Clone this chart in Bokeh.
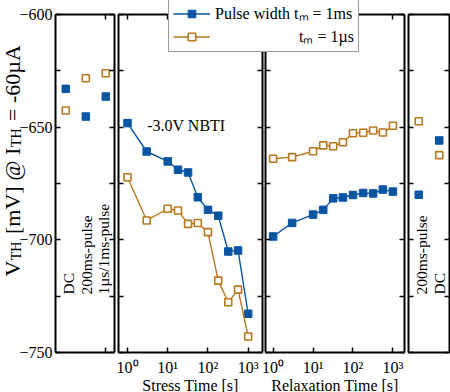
import math
from bokeh.plotting import figure
from bokeh.models import (Range1d, LogScale, LinearScale, LinearAxis, LogAxis,
                          FixedTicker, Label, Legend, LegendItem)
from bokeh.embed import file_html
from bokeh.resources import INLINE

# ---------------- data ----------------
stress_time = [1, 3, 10, 18, 32, 56, 100, 180, 320, 560, 1000]
stress_1ms = [-648.2, -660.8, -665.2, -668.9, -670.1, -681.1, -686.7, -689.3, -705.2, -704.7, -732.8]
stress_1us = [-672.2, -691.4, -686.2, -687.0, -692.9, -692.5, -696.6, -718.1, -727.7, -722.1, -742.9]

relax_time = [1, 3, 10, 18, 32, 56, 100, 180, 320, 560, 1000]
relax_1ms = [-698.5, -692.5, -688.8, -686.7, -681.6, -681.2, -680.1, -679.2, -679.4, -677.7, -678.6]
relax_1us = [-664.0, -663.3, -660.7, -658.1, -658.5, -656.7, -652.7, -652.5, -651.5, -652.4, -649.4]

left_labels = ["DC", "200ms-pulse", "1µs/1ms-pulse"]
left_pos = [1, 2, 3]
left_1ms = [-633.0, -645.3, -636.4]
left_1us = [-642.6, -628.3, -626.1]

right_labels = ["200ms-pulse", "DC"]
right_pos = [1, 2]
right_1ms = [-680.0, -655.9]
right_1us = [-647.4, -662.4]

y_ticks = [-750, -700, -650, -600]
y_minor_ticks = [-725, -675, -625]
time_ticks = [1, 10, 100, 1000]
time_tick_labels = ["10⁰", "10¹", "10²", "10³"]

# ---------------- style / layout (canvas pixels) ----------------
FONT = "Liberation Serif"
BLUE = "#0a55a3"
ORANGE = "#b9771e"
W, H = 450, 392
FT, FB = 14, 352                       # top / bottom of the panels
P1, P2, P3, P4 = (55, 114), (118, 262), (265, 404), (408, 449)
P1_DATA = (0.485, 3.435)
P2_DATA = (10 ** -0.224, 10 ** 3.356)
P3_DATA = (10 ** -0.19, 10 ** 3.29)
P4_DATA = (0.5, 2.5)
Y_DATA = (-750, -600)


def frame_range(data, px, log=False):
    a, b = data
    if log:
        a, b = math.log10(a), math.log10(b)
    k = (b - a) / (px[1] - px[0])
    s = a - px[0] * k
    e = b + (W - px[1]) * k
    if log:
        s, e = 10 ** s, 10 ** e
    return Range1d(s, e)


KY = (Y_DATA[1] - Y_DATA[0]) / (FB - FT)
y_range = Range1d(Y_DATA[0] - (H - FB) * KY, Y_DATA[1] + FT * KY)


def px_to_x1(px):
    return P1_DATA[0] + (px - P1[0]) * (P1_DATA[1] - P1_DATA[0]) / (P1[1] - P1[0])


def py_to_v(py):
    return Y_DATA[1] - (py - FT) * KY


p = figure(width=W, height=H, x_range=frame_range(P1_DATA, P1), y_range=y_range,
           x_axis_type=None, y_axis_type=None, output_backend="svg", toolbar_location=None,
           min_border=0, min_border_left=0, min_border_right=0,
           min_border_top=0, min_border_bottom=0)
p.outline_line_color = None
p.background_fill_color = "white"
p.border_fill_color = "white"
p.extra_x_ranges = {"stress": frame_range(P2_DATA, P2, True),
                    "relax": frame_range(P3_DATA, P3, True),
                    "dc": frame_range(P4_DATA, P4)}
p.extra_x_scales = {"stress": LogScale(), "relax": LogScale(), "dc": LinearScale()}


def style(ax, labels=True, tick=5):
    ax.axis_line_width = 2
    ax.axis_line_color = "black"
    ax.major_tick_in = tick
    ax.major_tick_out = 0
    ax.minor_tick_in = tick
    ax.minor_tick_out = 0
    ax.major_tick_line_width = 1.5
    ax.minor_tick_line_width = 1.5
    ax.major_tick_line_color = "black"
    ax.minor_tick_line_color = "black"
    ax.major_label_text_font = FONT
    ax.major_label_text_font_size = "16px"
    ax.major_label_text_color = "black" if labels else None
    ax.axis_label_text_font = FONT
    ax.axis_label_text_font_size = "16px"
    ax.axis_label_text_font_style = "normal"
    ax.axis_label_text_color = "black"


panels = [("default", P1_DATA, False, [3], None),
          ("stress", P2_DATA, True, time_ticks, "Stress Time [s]"),
          ("relax", P3_DATA, True, time_ticks, "Relaxation Time [s]"),
          ("dc", P4_DATA, False, [1], None)]

for i, (name, (a, b), is_log, xt, xlabel) in enumerate(panels):
    for side, loc in (("left", a), ("right", b)):
        ax = LinearAxis(x_range_name=name, fixed_location=loc, bounds=Y_DATA,
                        ticker=FixedTicker(ticks=y_ticks, minor_ticks=y_minor_ticks))
        style(ax, labels=(i == 0 and side == "left"))
        ax.major_label_standoff = 3
        p.add_layout(ax, side)
    for side, loc in (("below", Y_DATA[0]), ("above", Y_DATA[1])):
        cls = LogAxis if is_log else LinearAxis
        ax = cls(x_range_name=name, fixed_location=loc, bounds=(a, b),
                 ticker=FixedTicker(ticks=xt, minor_ticks=[]))
        show = side == "below" and xlabel is not None
        style(ax, labels=show, tick=0 if name == "dc" else 5)
        if show:
            ax.major_label_overrides = {t: s for t, s in zip(time_ticks, time_tick_labels)}
            ax.major_label_standoff = 6
            ax.axis_label = xlabel
            ax.axis_label_standoff = -2
        p.add_layout(ax, side)

# ---------------- data glyphs ----------------
def series(x, y, rng, filled):
    if filled:
        ln = p.line(x, y, x_range_name=rng, line_color=BLUE, line_width=1.4)
        sc = p.scatter(x, y, x_range_name=rng, marker="square", size=7.5,
                       fill_color=BLUE, line_color=BLUE)
    else:
        ln = p.line(x, y, x_range_name=rng, line_color=ORANGE, line_width=1.4)
        sc = p.scatter(x, y, x_range_name=rng, marker="square", size=7,
                       fill_color="white", line_color=ORANGE, line_width=1.6)
    return ln, sc

bl, bs = series(stress_time, stress_1ms, "stress", True)
ol, osc = series(stress_time, stress_1us, "stress", False)
series(relax_time, relax_1ms, "relax", True)
series(relax_time, relax_1us, "relax", False)

p.scatter(left_pos, left_1ms, marker="square", size=7.5, fill_color=BLUE, line_color=BLUE)
p.scatter(left_pos, left_1us, marker="square", size=7, fill_color="white",
          line_color=ORANGE, line_width=1.6)
p.scatter(right_pos, right_1ms, x_range_name="dc", marker="square", size=7.5,
          fill_color=BLUE, line_color=BLUE)
p.scatter(right_pos, right_1us, x_range_name="dc", marker="square", size=7,
          fill_color="white", line_color=ORANGE, line_width=1.6)

# ---------------- texts ----------------
def txt(**kw):
    base = dict(text_font=FONT, text_font_size="16px", text_color="black",
                text_baseline="alphabetic", text_align="left")
    base.update(kw)
    p.add_layout(Label(**base))

txt(x=3.1, y=-649.3, x_range_name="stress", text="-3.0V NBTI")

LEFT_DX = [2.7, 0.7, -2.3]
for pos, t, dx in zip(left_pos, left_labels, LEFT_DX):
    txt(x=pos, y=py_to_v(294), x_offset=dx, text=t, angle=math.pi / 2, text_font_size="15.5px")
RIGHT_DX = [2.7, 0.0]
for pos, t, dx in zip(right_pos, right_labels, RIGHT_DX):
    txt(x=pos, y=py_to_v(294), x_offset=dx, x_range_name="dc", text=t,
        angle=math.pi / 2, text_font_size="15.5px")

# y-axis label with subscripts, drawn bottom-to-top
YF, YS = 22, 14
base_x, sub_x = 12, 16
pieces = [("V", YF, base_x, 0.74 * YF),
          ("TH", YS, sub_x, 1.4 * YS + 0.3 * YF),
          ("[mV] @ I", YF, base_x, 3.95 * YF),
          ("TH", YS, sub_x, 1.4 * YS + 0.3 * YF),
          ("= -60µA", YF, base_x, 3.4 * YF)]
y0 = 276
for t, fs, bx, adv in pieces:
    txt(x=px_to_x1(bx), y=py_to_v(y0), text=t, angle=math.pi / 2, text_font_size=f"{fs}px")
    y0 -= adv

# ---------------- legend ----------------
legend = Legend(items=[LegendItem(label="Pulse width tₘ = 1ms", renderers=[bl, bs]),
                       LegendItem(label="\u00a0" * 21 + "tₘ = 1µs", renderers=[ol, osc])],
                location=(168, 340))
legend.label_text_font = FONT
legend.label_text_font_size = "16px"
legend.label_text_color = "black"
legend.border_line_color = "#333333"
legend.border_line_width = 1.2
legend.background_fill_alpha = 1
legend.padding = 4
legend.spacing = 1
legend.margin = 0
legend.glyph_width = 37
legend.glyph_height = 19
legend.label_height = 19
legend.label_standoff = 5
p.add_layout(legend)

open("out.html", "w").write(file_html(p, INLINE))
